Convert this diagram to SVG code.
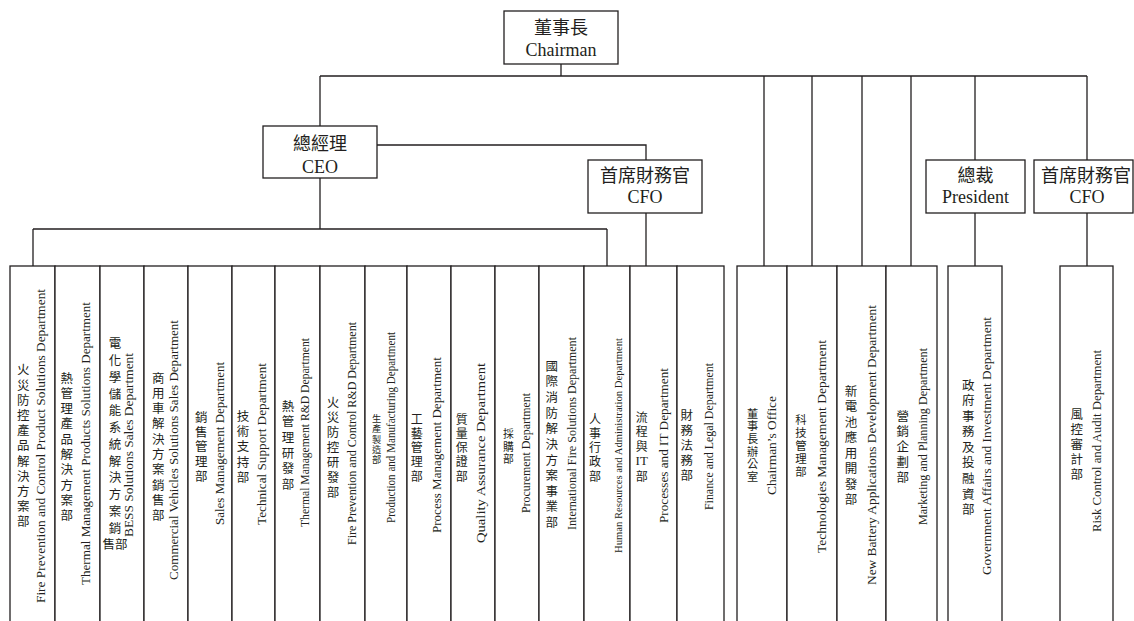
<svg xmlns="http://www.w3.org/2000/svg" width="1134" height="621" viewBox="0 0 1134 621">
<style>
.ln{stroke:#231f20;stroke-width:1.3;fill:none}
.box{fill:#fff;stroke:#231f20;stroke-width:1.3}
.col{fill:#fff;stroke:#231f20;stroke-width:1.3}
.t{font-family:"Liberation Serif","Noto Sans CJK TC",serif;font-size:18px;fill:#231f20;text-anchor:middle}
.en{font-family:"Liberation Serif",serif;font-size:13px;fill:#231f20;text-anchor:middle;dominant-baseline:central}
.cj{font-family:"Noto Sans CJK TC",sans-serif;font-size:12.5px;fill:#231f20;text-anchor:middle}
</style>
<rect width="1134" height="621" fill="#fff"/>
<g id="connectors">
<path class="ln" d="M561,64V76M320,76H1087M320,76V126"/>
<path class="ln" d="M377,145H646V160"/>
<path class="ln" d="M320,178V229M33,229H607M33,229V266M607,229V266"/>
<path class="ln" d="M646,213V266"/>
<path class="ln" d="M764,76V266M812,76V266M862,76V266M911,76V266"/>
<path class="ln" d="M975,76V160M975,213V266"/>
<path class="ln" d="M1087,76V160M1087,213V266"/>
</g>
<g id="chairman"><rect class="box" x="504" y="11" width="114" height="53"/><text class="t" x="561" y="34">董事長</text><text class="t" x="561" y="56">Chairman</text></g>
<g id="ceo"><rect class="box" x="263" y="126" width="114" height="52"/><text class="t" x="320" y="150">總經理</text><text class="t" x="320" y="173">CEO</text></g>
<g id="cfo"><rect class="box" x="588" y="160" width="114" height="53"/><text class="t" x="645" y="182">首席財務官</text><text class="t" x="645" y="203">CFO</text></g>
<g id="president"><rect class="box" x="926" y="160" width="99" height="53"/><text class="t" x="975.5" y="182">總裁</text><text class="t" x="975.5" y="203">President</text></g>
<g id="cfo2"><rect class="box" x="1034" y="160" width="99" height="53"/><text class="t" x="1086" y="182">首席財務官</text><text class="t" x="1087" y="203">CFO</text></g>

<g id="d1"><rect class="col" x="10" y="266" width="45" height="360"/><text class="cj" x="23.3 23.3 23.3 23.3 23.3 23.3 23.3 23.3 23.3 23.3 23.3" y="374.4 389.6 404.8 419.9 435.1 450.3 465.5 480.7 495.8 511 526.2">火災防控產品解決方案部</text><text class="en" transform="translate(40.7,446) rotate(-90)" textLength="314" lengthAdjust="spacingAndGlyphs">Fire Prevention and Control Product Solutions Department</text></g>
<g id="d2"><rect class="col" x="55" y="266" width="45" height="360"/><text class="cj" x="66.7 66.7 66.7 66.7 66.7 66.7 66.7 66.7 66.7 66.7" y="382.5 397.8 413.1 428.4 443.7 459 474.3 489.6 504.9 520.2">熱管理產品解決方案部</text><text class="en" transform="translate(85,443.5) rotate(-90)" textLength="283" lengthAdjust="spacingAndGlyphs">Thermal Management Products Solutions Department</text></g>
<g id="d3"><rect class="col" x="100" y="266" width="44" height="360"/><text class="cj" x="115 115 115 115 115 115 115 115 115 115 115 115 115" y="348.2 365 381.7 398.5 415.3 432 448.8 465.6 482.4 499.1 515.9 532.7 549.4">電化學儲能系統解決方案銷售部</text><text class="en" transform="translate(128.3,445) rotate(-90)" textLength="184" lengthAdjust="spacingAndGlyphs">BESS Solutions Sales Department</text></g>
<g id="d4"><rect class="col" x="144" y="266" width="44" height="360"/><text class="cj" x="158.3 158.3 158.3 158.3 158.3 158.3 158.3 158.3 158.3 158.3" y="382.5 397.8 413.1 428.4 443.7 459 474.3 489.6 504.9 520.2">商用車解決方案銷售部</text><text class="en" transform="translate(173.3,450) rotate(-90)" textLength="260" lengthAdjust="spacingAndGlyphs">Commercial Vehicles Solutions Sales Department</text></g>
<g id="d5"><rect class="col" x="188" y="266" width="44" height="360"/><text class="cj" x="201.3 201.3 201.3 201.3 201.3" y="422.1 436.7 451.3 465.9 480.5">銷售管理部</text><text class="en" transform="translate(219.7,443.5) rotate(-90)" textLength="163" lengthAdjust="spacingAndGlyphs">Sales Management Department</text></g>
<g id="d6"><rect class="col" x="232" y="266" width="43" height="360"/><text class="cj" x="243 243 243 243 243" y="420.5 435.9 451.3 466.7 482.1">技術支持部</text><text class="en" transform="translate(261.3,444) rotate(-90)" textLength="162" lengthAdjust="spacingAndGlyphs">Technical Support Department</text></g>
<g id="d7"><rect class="col" x="275" y="266" width="45" height="360"/><text class="cj" x="288 288 288 288 288 288" y="410.6 426.3 442 457.6 473.3 489">熱管理研發部</text><text class="en" transform="translate(304.7,432.5) rotate(-90)" textLength="189" lengthAdjust="spacingAndGlyphs">Thermal Management R&amp;D Department</text></g>
<g id="d8"><rect class="col" x="320" y="266" width="45" height="360"/><text class="cj" x="333 333 333 333 333 333 333" y="407.3 422.3 437.3 452.3 467.3 482.3 497.3">火災防控研發部</text><text class="en" transform="translate(351,433.5) rotate(-90)" textLength="223" lengthAdjust="spacingAndGlyphs">Fire Prevention and Control R&amp;D Department</text></g>
<g id="d9"><rect class="col" x="365" y="266" width="42" height="360"/><text class="cj" style="font-size:9.3px" x="376.7 376.7 376.7 376.7 376.7" y="421.8 432.2 442.6 453 463.4">生產製造部</text><text class="en" transform="translate(390,427.5) rotate(-90)" textLength="191" lengthAdjust="spacingAndGlyphs">Production and Manufacturing Department</text></g>
<g id="d10"><rect class="col" x="407" y="266" width="44" height="360"/><text class="cj" style="font-size:12px" x="416.7 416.7 416.7 416.7 416.7" y="423.8 438 452.2 466.4 480.6">工藝管理部</text><text class="en" transform="translate(436.7,445) rotate(-90)" textLength="176" lengthAdjust="spacingAndGlyphs">Process Management Department</text></g>
<g id="d11"><rect class="col" x="451" y="266" width="44" height="360"/><text class="cj" style="font-size:12px" x="461.7 461.7 461.7 461.7 461.7" y="423.8 438 452.2 466.4 480.6">質量保證部</text><text class="en" transform="translate(480,453) rotate(-90)" textLength="180" lengthAdjust="spacingAndGlyphs">Quality Assurance Department</text></g>
<g id="d12"><rect class="col" x="495" y="266" width="44" height="360"/><text class="cj" style="font-size:10.8px" x="508.3 508.3 508.3" y="438.3 450.6 462.9">採購部</text><text class="en" transform="translate(525,453) rotate(-90)" textLength="120" lengthAdjust="spacingAndGlyphs">Procurement Department</text></g>
<g id="d13"><rect class="col" x="539" y="266" width="45" height="360"/><text class="cj" x="551.7 551.7 551.7 551.7 551.7 551.7 551.7 551.7 551.7 551.7 551.7" y="370.6 386.3 401.9 417.5 433.2 448.8 464.5 480.1 495.8 511.4 527.1">國際消防解決方案事業部</text><text class="en" transform="translate(571.7,433.5) rotate(-90)" textLength="193" lengthAdjust="spacingAndGlyphs">International Fire Solutions Department</text></g>
<g id="d14"><rect class="col" x="584" y="266" width="46" height="360"/><text class="cj" style="font-size:12px" x="595 595 595 595 595" y="423.8 438 452.2 466.4 480.6">人事行政部</text><text class="en" transform="translate(618.3,445.5) rotate(-90)" style="font-size:11px" textLength="215" lengthAdjust="spacingAndGlyphs">Human Resources and Administration Department</text></g>
<g id="d15"><rect class="col" x="630" y="266" width="47" height="360"/><text class="cj" style="font-size:12px" x="641.7 641.7 641.7" y="422 436.4 450.8">流程與<tspan x="641.7" y="465" style="font-family:'Liberation Serif',serif;font-size:13px">IT</tspan><tspan x="641.7" y="481">部</tspan></text><text class="en" transform="translate(663.3,445.5) rotate(-90)" textLength="155" lengthAdjust="spacingAndGlyphs">Processes and IT Department</text></g>
<g id="d16"><rect class="col" x="677" y="266" width="47" height="360"/><text class="cj" x="686.7 686.7 686.7 686.7 686.7" y="420.3 435.3 450.3 465.3 480.3">財務法務部</text><text class="en" transform="translate(708.3,436.5) rotate(-90)" textLength="147" lengthAdjust="spacingAndGlyphs">Finance and Legal Department</text></g>

<g id="d17"><rect class="col" x="737" y="266" width="50" height="360"/><text class="cj" style="font-size:11.2px" x="752.7 752.7 752.7 752.7 752.7 752.7" y="417.6 430.2 442.9 455.6 468.2 480.9">董事長辦公室</text><text class="en" transform="translate(771,445.5) rotate(-90)" textLength="99" lengthAdjust="spacingAndGlyphs">Chairman’s Office</text></g>
<g id="d18"><rect class="col" x="787" y="266" width="50" height="360"/><text class="cj" style="font-size:11.4px" x="801 801 801 801 801" y="424 437 450 463 476">科技管理部</text><text class="en" transform="translate(821,446.5) rotate(-90)" textLength="213" lengthAdjust="spacingAndGlyphs">Technologies Management Department</text></g>
<g id="d19"><rect class="col" x="837" y="266" width="49" height="360"/><text class="cj" x="851 851 851 851 851 851 851 851" y="395.6 411.1 426.6 442.1 457.6 473.1 488.6 504.1">新電池應用開發部</text><text class="en" transform="translate(871,445) rotate(-90)" textLength="280" lengthAdjust="spacingAndGlyphs">New Battery Applications Development Department</text></g>
<g id="d20"><rect class="col" x="886" y="266" width="51" height="360"/><text class="cj" x="902.7 902.7 902.7 902.7 902.7" y="420.5 435.9 451.3 466.7 482.1">營銷企劃部</text><text class="en" transform="translate(922.7,436.5) rotate(-90)" textLength="177" lengthAdjust="spacingAndGlyphs">Marketing and Planning Department</text></g>
<g id="d21"><rect class="col" x="948" y="266" width="54" height="360"/><text class="cj" x="968.3 968.3 968.3 968.3 968.3 968.3 968.3 968.3 968.3" y="389.6 405.1 420.7 436.3 451.8 467.4 482.9 498.5 514.1">政府事務及投融資部</text><text class="en" transform="translate(986,446) rotate(-90)" textLength="258" lengthAdjust="spacingAndGlyphs">Government Affairs and Investment Department</text></g>
<g id="d22"><rect class="col" x="1060" y="266" width="53" height="360"/><text class="cj" x="1076.7 1076.7 1076.7 1076.7 1076.7" y="419.3 434.3 449.3 464.3 479.3">風控審計部</text><text class="en" transform="translate(1096.7,441) rotate(-90)" textLength="182" lengthAdjust="spacingAndGlyphs">Risk Control and Audit Department</text></g>
</svg>
